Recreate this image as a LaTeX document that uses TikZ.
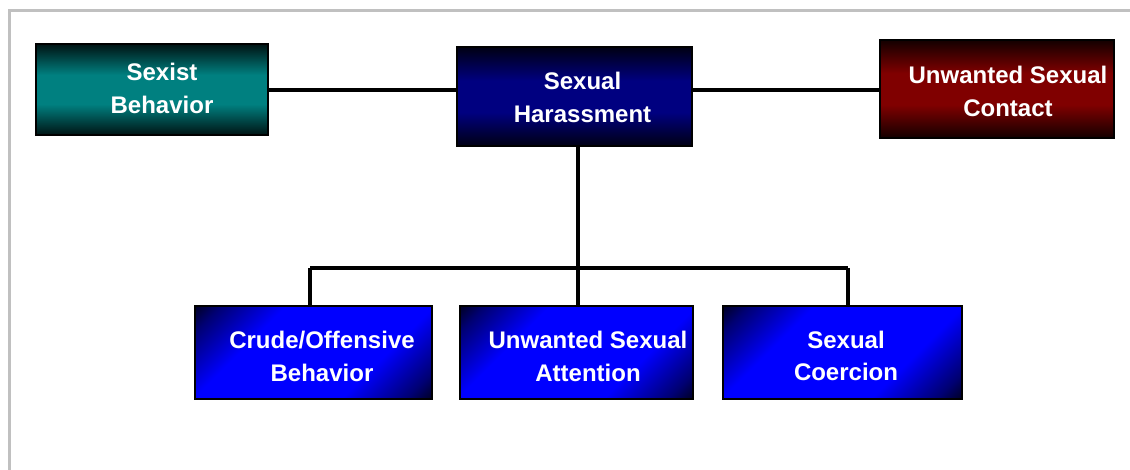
\documentclass[tikz,border=0pt]{standalone}
\usepackage{fontspec}
\setmainfont{Liberation Sans}
\definecolor{tealc}{RGB}{0,128,128}
\definecolor{navyc}{RGB}{0,0,128}
\definecolor{maroonc}{RGB}{128,0,0}
\definecolor{bluec}{RGB}{0,0,255}
\definecolor{framegray}{RGB}{192,192,192}
\pgfdeclareverticalshading{tealv}{100bp}{color(0bp)=(black); color(25bp)=(black!85!tealc); color(42bp)=(tealc); color(58bp)=(tealc); color(75bp)=(black!85!tealc); color(100bp)=(black)}
\pgfdeclareverticalshading{navyv}{100bp}{color(0bp)=(black); color(25bp)=(black!85!navyc); color(42bp)=(navyc); color(58bp)=(navyc); color(75bp)=(black!85!navyc); color(100bp)=(black)}
\pgfdeclareverticalshading{maroonv}{100bp}{color(0bp)=(black); color(25bp)=(black!85!maroonc); color(42bp)=(maroonc); color(58bp)=(maroonc); color(75bp)=(black!85!maroonc); color(100bp)=(black)}
\pgfdeclarehorizontalshading{bluediag}{100bp}{color(0bp)=(black); color(12bp)=(black); color(20bp)=(bluec!45!black); color(34bp)=(bluec); color(66bp)=(bluec); color(80bp)=(bluec!45!black); color(88bp)=(black); color(100bp)=(black)}
\tikzset{
  box/.style={draw=black, line width=1.2bp, shade, inner sep=0pt},
  topbox/.style={box, minimum width=233bp, minimum height=94bp},
  lowbox/.style={box, line width=1.8bp, minimum width=236bp, minimum height=93bp, shading=bluediag, shading angle=-45},
  lbl/.style={text=white, align=center, inner sep=0pt, font=\fontsize{24bp}{32.5bp}\selectfont\bfseries},
  conn/.style={draw=black, line width=3.2bp},
  framel/.style={draw=framegray, line width=3bp}
}
\begin{document}
\begin{tikzpicture}[x=1bp,y=-1bp]
\useasboundingbox (0,0) rectangle (1130,470);
\fill[white] (0,0) rectangle (1130,470);
\draw[framel] (9,470) -- (9,11) -- (1130,11);

% boxes
\node[topbox, shading=tealv, minimum width=232bp, minimum height=91bp] (sb) at (152,89.5) {};
\node[topbox, shading=navyv, minimum width=235bp, minimum height=99bp] (sh) at (574.5,96.5) {};
\node[topbox, shading=maroonv, minimum width=234bp, minimum height=98bp] (usc) at (997,89) {};
\node[lowbox, minimum width=237bp] (crude) at (313.5,352.5) {};
\node[lowbox, minimum width=233bp] (usa) at (576.5,352.5) {};
\node[lowbox, minimum width=239bp] (sc) at (842.5,352.5) {};

% labels
\node[lbl] (sbt) at (162,88.2) {Sexist\\Behavior};
\node[lbl] (sht) at (582.5,97.3) {Sexual\\Harassment};
\node[lbl] (usct) at (1008,91.6) {Unwanted Sexual\\Contact};
\node[lbl] (crudet) at (322,356.5) {Crude/Offensive\\Behavior};
\node[lbl] (usat) at (588,356.5) {Unwanted Sexual\\Attention};
\node[lbl] (sct) at (846,356) {Sexual\\Coercion};

% connectors
\coordinate (bl) at (310,268);
\coordinate (bm) at (578,268);
\coordinate (br) at (848,268);
\draw[conn] (sb.east |- 0,90) -- (sh.west |- 0,90);
\draw[conn] (sh.east |- 0,90) -- (usc.west |- 0,90);
\draw[conn] (sh.south -| bm) -- (usa.north -| bm);
\draw[conn] (bl) -- (br);
\draw[conn] (bl) -- (bl |- crude.north);
\draw[conn] (br) -- (br |- sc.north);
\end{tikzpicture}
\end{document}
